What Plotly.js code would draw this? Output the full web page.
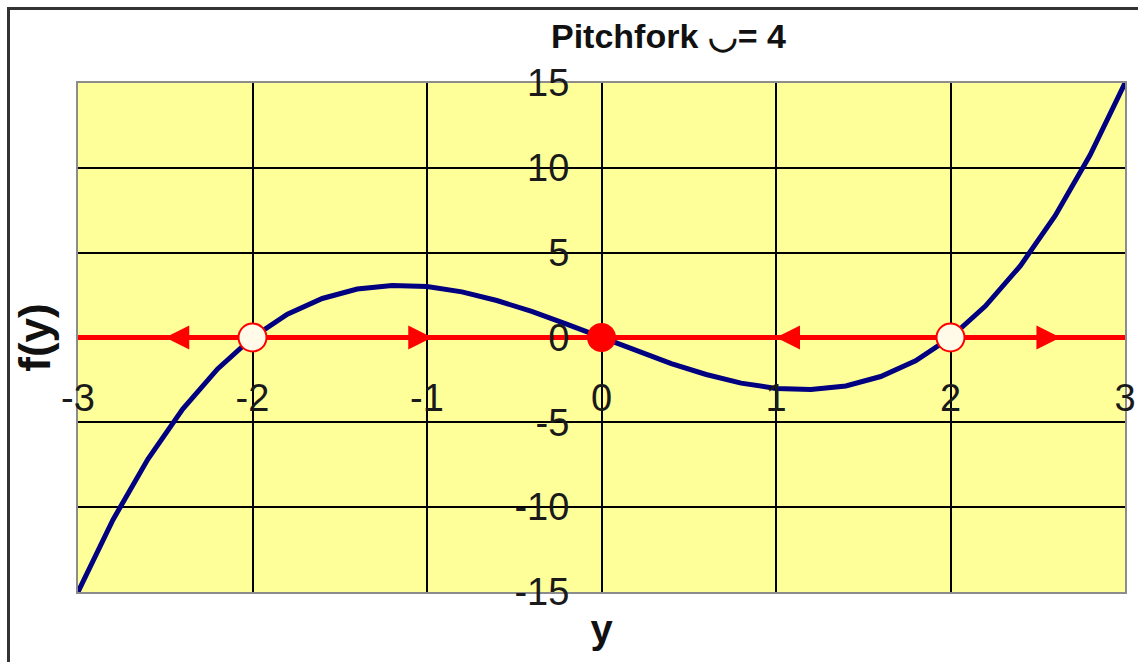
<!DOCTYPE html>
<html>
<head>
<meta charset="utf-8">
<script src="https://cdn.plot.ly/plotly-3.0.1.min.js"></script>
<style>
  html, body { margin: 0; padding: 0; background: #fff; }
  #wrap { position: relative; width: 1138px; height: 662px; overflow: hidden; }
  #frame { position: absolute; left: 7px; top: 7px; right: -10px; bottom: -10px;
           border-left: 3px solid #333; border-top: 3px solid #333; pointer-events: none; }
  #chart { position: absolute; left: 0; top: 0; width: 1138px; height: 662px; }
</style>
</head>
<body>
<div id="wrap">
  <div id="chart"></div>
  <div id="frame"></div>
</div>
<script>
// f(y) sampled along the state axis y
const yVals = [-3.0, -2.8, -2.6, -2.4, -2.2, -2.0, -1.8, -1.6, -1.4, -1.2, -1.0,
               -0.8, -0.6, -0.4, -0.2, 0.0, 0.2, 0.4, 0.6, 0.8, 1.0,
               1.2, 1.4, 1.6, 1.8, 2.0, 2.2, 2.4, 2.6, 2.8, 3.0];
const fVals = [-15.00, -10.75, -7.18, -4.22, -1.85, 0.00, 1.37, 2.30, 2.86, 3.07, 3.00,
               2.69, 2.18, 1.54, 0.79, 0.00, -0.79, -1.54, -2.18, -2.69, -3.00,
               -3.07, -2.86, -2.30, -1.37, 0.00, 1.85, 4.22, 7.18, 10.75, 15.00];

// phase line and its equilibria
const phaseX = [-3, 3];
const phaseY = [0, 0];
const unstableY = [-2, 2];
const stableY = [0];

// flow direction arrows on the phase line (tip position, direction)
const flowTips = [-2.5, -0.97, 1.0, 2.63];
const flowDirs = [-1, 1, -1, 1];

// axis ticks
const xTickVals = [-3, -2, -1, 0, 1, 2, 3];
const xTickText = ['-3', '-2', '-1', '0', '1', '2', '3'];
const yTickVals = [-15, -10, -5, 0, 5, 10, 15];
const yTickText = ['-15', '-10', '-5', '0', '5', '10', '15'];

const FONT = '"Liberation Sans", Arial, sans-serif';
const RED = '#ff0000';

const traces = [
  {
    x: yVals, y: fVals, type: 'scatter', mode: 'lines',
    line: { color: '#000080', width: 5 },
    hoverinfo: 'skip', showlegend: false
  },
  {
    x: phaseX, y: phaseY, type: 'scatter', mode: 'lines',
    line: { color: RED, width: 5 },
    hoverinfo: 'skip', showlegend: false
  },
  {
    x: unstableY, y: unstableY.map(() => 0), type: 'scatter', mode: 'markers',
    marker: { size: 28, color: '#fffbe8', line: { color: RED, width: 2 } },
    hoverinfo: 'skip', showlegend: false
  },
  {
    x: stableY, y: stableY.map(() => 0), type: 'scatter', mode: 'markers',
    marker: { size: 29, color: RED, line: { width: 0 } },
    hoverinfo: 'skip', showlegend: false
  },
  // carrier for the inner tick-label axes
  {
    x: yVals, y: fVals, type: 'scatter', mode: 'lines',
    xaxis: 'x2', yaxis: 'y2',
    line: { color: 'rgba(0,0,0,0)', width: 0 },
    hoverinfo: 'skip', showlegend: false
  }
];

const annotations = flowTips.map((t, i) => ({
  x: t, y: 0, xref: 'x', yref: 'y',
  ax: t - flowDirs[i] * 0.14, ay: 0, axref: 'x', ayref: 'y',
  showarrow: true, arrowhead: 2, arrowsize: 1.6, arrowwidth: 3,
  arrowcolor: RED, text: ''
}));

const layout = {
  width: 1138, height: 662,
  margin: { l: 78, r: 13, t: 83, b: 70, pad: 0 },
  paper_bgcolor: 'rgba(0,0,0,0)',
  plot_bgcolor: '#ffff99',
  showlegend: false,
  title: {
    text: '<b>Pitchfork \u25E1= 4</b>',
    font: { family: FONT, size: 34, color: '#111' },
    xref: 'paper', x: 0.564, xanchor: 'center',
    yref: 'container', y: 0.945, yanchor: 'middle'
  },
  xaxis: {
    range: [-3, 3], tickmode: 'array', tickvals: xTickVals,
    showticklabels: false, ticks: '',
    showgrid: true, gridcolor: '#000', gridwidth: 2,
    zeroline: true, zerolinecolor: '#000', zerolinewidth: 2,
    showline: true, mirror: true, linecolor: '#8c8c8c', linewidth: 2,
    fixedrange: true,
    title: { text: '<b>y</b>', font: { family: FONT, size: 40, color: '#111' }, standoff: 22 }
  },
  yaxis: {
    range: [-15, 15], tickmode: 'array', tickvals: yTickVals,
    showticklabels: false, ticks: '',
    showgrid: true, gridcolor: '#000', gridwidth: 2,
    zeroline: false,
    showline: true, mirror: true, linecolor: '#8c8c8c', linewidth: 2,
    fixedrange: true,
    title: { text: '<b>f(y)</b>', font: { family: FONT, size: 44, color: '#111' }, standoff: 12 }
  },
  xaxis2: {
    overlaying: 'x', anchor: 'free', position: 0.432, side: 'bottom',
    range: [-3, 3], tickmode: 'array', tickvals: xTickVals, ticktext: xTickText,
    ticks: '', showgrid: false, zeroline: false, showline: false,
    tickfont: { family: FONT, size: 38, color: '#1a1a1a' },
    fixedrange: true
  },
  yaxis2: {
    overlaying: 'y', anchor: 'free', position: 0.5014, side: 'left',
    range: [-15, 15], tickmode: 'array', tickvals: yTickVals, ticktext: yTickText,
    ticks: 'outside', ticklen: 26, tickcolor: 'rgba(0,0,0,0)',
    showgrid: false, zeroline: false, showline: false,
    tickfont: { family: FONT, size: 38, color: '#1a1a1a' },
    fixedrange: true
  },
  annotations: annotations
};

Plotly.newPlot('chart', traces, layout, { displayModeBar: false, staticPlot: true });
</script>
</body>
</html>
